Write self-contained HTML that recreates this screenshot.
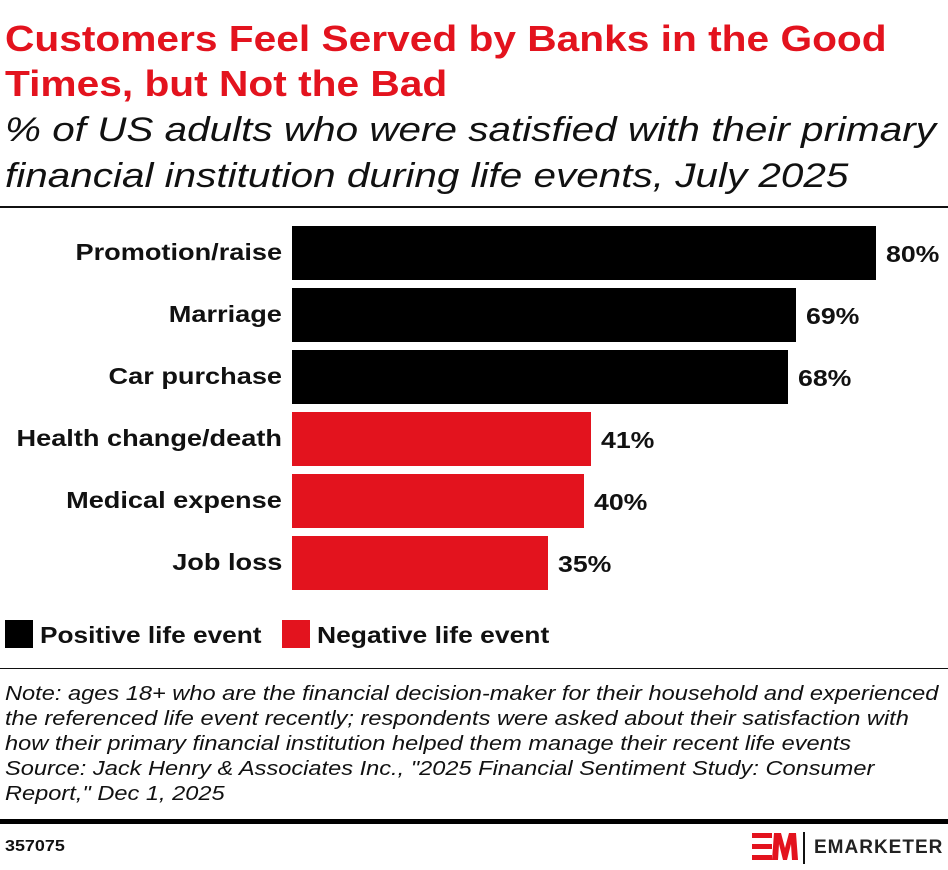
<!DOCTYPE html>
<html><head><style>
body{margin:0;width:948px;height:870px;background:#fff;font-family:"Liberation Sans",sans-serif;position:relative;overflow:hidden}
.a{position:absolute;white-space:nowrap}
.t{color:#e3131e;font-weight:bold;font-size:36px;left:5px;line-height:45px;transform:scaleX(1.13);transform-origin:left top}
.s{font-style:italic;font-size:34px;left:5px;line-height:46px;color:#111;transform:scaleX(1.19);transform-origin:left top}
.lab{right:666px;font-weight:bold;font-size:23px;color:#111;transform:scaleX(1.18);transform-origin:right top}
.bar{left:292px;height:54px}
.v{font-weight:bold;font-size:23px;color:#111;transform:scaleX(1.16);transform-origin:left top}
.n{font-style:italic;font-size:20px;left:5px;line-height:25px;color:#111;transform:scaleX(1.18);transform-origin:left top}
</style></head><body>
<div class="a t" style="top:16px">Customers Feel Served by Banks in the Good<br>Times, but Not the Bad</div>
<div class="a s" style="top:107px">% of US adults who were satisfied with their primary<br>financial institution during life events, July 2025</div>
<div class="a" style="left:0;top:206px;width:948px;height:2px;background:#111"></div>

<div class="a lab" style="top:239px">Promotion/raise</div>
<div class="a bar" style="top:226px;width:584px;background:#000"></div>
<div class="a v" style="left:886px;top:241px">80%</div>

<div class="a lab" style="top:301px">Marriage</div>
<div class="a bar" style="top:288px;width:504px;background:#000"></div>
<div class="a v" style="left:806px;top:303px">69%</div>

<div class="a lab" style="top:363px">Car purchase</div>
<div class="a bar" style="top:350px;width:496px;background:#000"></div>
<div class="a v" style="left:798px;top:365px">68%</div>

<div class="a lab" style="top:425px">Health change/death</div>
<div class="a bar" style="top:412px;width:299px;background:#e3131e"></div>
<div class="a v" style="left:601px;top:427px">41%</div>

<div class="a lab" style="top:487px">Medical expense</div>
<div class="a bar" style="top:474px;width:292px;background:#e3131e"></div>
<div class="a v" style="left:594px;top:489px">40%</div>

<div class="a lab" style="top:549px">Job loss</div>
<div class="a bar" style="top:536px;width:256px;background:#e3131e"></div>
<div class="a v" style="left:558px;top:551px">35%</div>

<div class="a" style="left:5px;top:620px;width:28px;height:28px;background:#000"></div>
<div class="a v" style="left:40px;top:622px;transform:scaleX(1.14)">Positive life event</div>
<div class="a" style="left:282px;top:620px;width:28px;height:28px;background:#e3131e"></div>
<div class="a v" style="left:317px;top:622px;transform:scaleX(1.15)">Negative life event</div>

<div class="a" style="left:0;top:668px;width:948px;height:1px;background:#111"></div>
<div class="a n" style="top:682px">Note: ages 18+ who are the financial decision-maker for their household and experienced<br>the referenced life event recently; respondents were asked about their satisfaction with<br>how their primary financial institution helped them manage their recent life events<br>Source: Jack Henry &amp; Associates Inc., "2025 Financial Sentiment Study: Consumer<br>Report," Dec 1, 2025</div>
<div class="a" style="left:0;top:819px;width:948px;height:5px;background:#000"></div>
<div class="a" style="left:5px;top:838px;font-weight:bold;font-size:16px;color:#111;transform:scaleX(1.12);transform-origin:left top">357075</div>
<svg class="a" style="left:750px;top:830px" width="50" height="34" viewBox="0 0 50 34">
<rect x="2" y="3" width="20" height="5" fill="#e3131e"/><rect x="2" y="14" width="20" height="5" fill="#e3131e"/><rect x="2" y="25" width="20" height="5" fill="#e3131e"/>
<polygon points="22,30 24,3 31,3 35,18 39,3 46,3 48,30 42,30 41,14 37,30 33,30 29,14 28,30" fill="#e3131e"/>
</svg>
<div class="a" style="left:803px;top:832px;width:2px;height:32px;background:#111"></div>
<div class="a" style="left:814px;top:837px;font-weight:bold;font-size:19px;letter-spacing:1px;color:#222">EMARKETER</div>
</body></html>
